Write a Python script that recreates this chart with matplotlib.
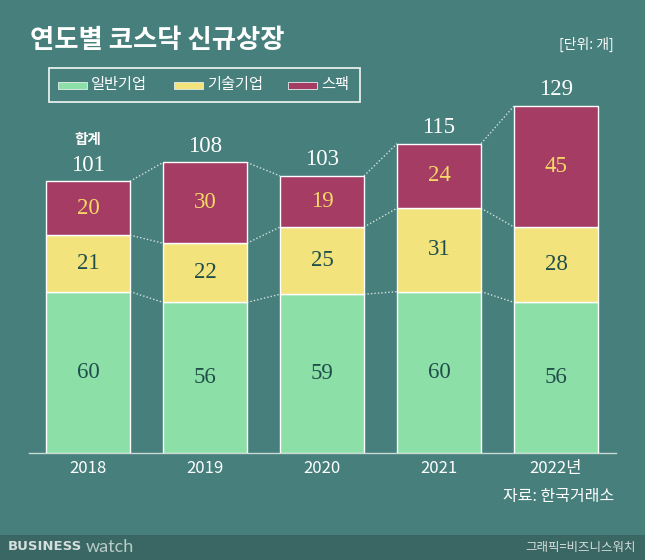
import matplotlib
matplotlib.use("Agg")
import matplotlib.pyplot as plt
from matplotlib.patches import Rectangle
import numpy as np

# ---- data ----
years = ["2018", "2019", "2020", "2021", "2022년"]
general = [60, 56, 59, 60, 56]      # 일반기업
tech = [21, 22, 25, 31, 28]         # 기술기업
spac = [20, 30, 19, 24, 45]         # 스팩
totals = [101, 108, 103, 115, 129]  # 합계
series_names = ["일반기업", "기술기업", "스팩"]

# ---- style ----
BG = "#467f7b"
FOOT = "#3a6763"
C_GREEN = "#8ddfa8"
C_YELLOW = "#f3e37c"
C_RED = "#a53c64"
DARK = "#1f4e4b"
NUM_YELLOW = "#f5d865"
SERIF = ["Liberation Serif", "DejaVu Serif"]
SANS = ["Noto Sans CJK KR", "DejaVu Sans"]

plt.rcParams["font.family"] = SANS

W, H = 645, 560
fig = plt.figure(figsize=(W / 100, H / 100), dpi=100)
fig.patch.set_facecolor(BG)


def fx(px):
    return px / W


def fy(py):
    return 1 - py / H


# footer band
fig.patches.append(Rectangle((0, 0), 1, fy(535), transform=fig.transFigure,
                             facecolor=FOOT, edgecolor="none", zorder=0))

# axes: baseline at y=453px, 2.69 px per unit; centers at 88 + 117*i
left_px, right_px, base_px = 29, 616, 453
ppu = 2.69
ax = fig.add_axes([fx(left_px), fy(base_px), (right_px - left_px) / W, base_px / H])
ax.set_facecolor("none")
ax.set_xlim((left_px - 88) / 117, (right_px - 88) / 117)
ax.set_ylim(0, base_px / ppu)
for s in ["top", "right", "left"]:
    ax.spines[s].set_visible(False)
ax.spines["bottom"].set_color("#c9d9d5")
ax.spines["bottom"].set_linewidth(1.0)
ax.set_yticks([])

x = np.arange(len(years))
bw = 84 / 117
g = np.array(general)
t = np.array(tech)
s = np.array(spac)

ek = dict(edgecolor="white", linewidth=1.0, width=bw, zorder=3)
ax.bar(x, g, color=C_GREEN, **ek)
ax.bar(x, t, bottom=g, color=C_YELLOW, **ek)
ax.bar(x, s, bottom=g + t, color=C_RED, **ek)

# dotted connectors between bars
levels = [g, g + t, g + t + s]
for lv in levels:
    for i in range(len(x) - 1):
        ax.plot([x[i] + bw / 2, x[i + 1] - bw / 2], [lv[i], lv[i + 1]],
                linestyle=(0, (1, 1.5)), color="#d5e2df", linewidth=1.0, zorder=2)

# segment labels
NS = 16.5
for i in range(len(x)):
    ax.text(x[i], g[i] / 2, str(g[i]), ha="center", va="center",
            fontsize=NS, color=DARK, family=SERIF, zorder=4)
    ax.text(x[i], g[i] + t[i] / 2, str(t[i]), ha="center", va="center",
            fontsize=NS, color=DARK, family=SERIF, zorder=4)
    ax.text(x[i], g[i] + t[i] + s[i] / 2, str(s[i]), ha="center", va="center",
            fontsize=NS, color=NUM_YELLOW, family=SERIF, zorder=4)
    ax.annotate(str(totals[i]), (x[i], totals[i]), xytext=(0, 4),
                textcoords="offset points", ha="center", va="bottom",
                fontsize=NS, color="white", family=SERIF, zorder=4,
                annotation_clip=False)

# 합계 label above first total
ax.annotate("합계", (x[0], totals[0]), xytext=(0, 25), textcoords="offset points",
            ha="center", va="bottom", fontsize=10.5, fontweight="bold",
            color="white", annotation_clip=False)

# x tick labels
ax.set_xticks(x)
ax.set_xticklabels(years, fontsize=12, color="white", fontweight="medium")
ax.tick_params(axis="x", length=0, pad=5)

# title and unit
fig.text(fx(30), fy(40), "연도별 코스닥 신규상장", ha="left", va="center",
         fontsize=19, fontweight="bold", color="white")
fig.text(fx(614), fy(44), "[단위: 개]", ha="right", va="center",
         fontsize=10, color="white", fontweight="medium")

# legend box
fig.patches.append(Rectangle((fx(49), fy(102)), (360 - 49) / W, (102 - 68) / H,
                             transform=fig.transFigure, facecolor="none",
                             edgecolor="#e6eeec", linewidth=1.3, zorder=5))
leg_items = [(58, C_GREEN, series_names[0]),
             (174, C_YELLOW, series_names[1]),
             (288, C_RED, series_names[2])]
for px, col, lab in leg_items:
    fig.patches.append(Rectangle((fx(px), fy(89)), 29 / W, 7 / H,
                                 transform=fig.transFigure, facecolor=col,
                                 edgecolor="#e6eeec", linewidth=0.6, zorder=5))
    fig.text(fx(px + 33), fy(85), lab, ha="left", va="center",
             fontsize=11, color="white", fontweight="medium")

# source
fig.text(fx(614), fy(497), "자료: 한국거래소", ha="right", va="center",
         fontsize=11.5, color="white", fontweight="medium")

# footer
fig.text(fx(8), fy(547), "BUSINESS", ha="left", va="center", fontsize=9.5,
         fontweight="heavy", color="#d4dedc", family=["DejaVu Sans"])
fig.text(fx(86), fy(547), "watch", ha="left", va="center", fontsize=13,
         fontweight="normal", color="#b9ccc8", family=["Lato", "DejaVu Sans"])
fig.text(fx(636), fy(547), "그래픽=비즈니스워치", ha="right", va="center",
         fontsize=9, color="#d4dedc", fontweight="medium")

fig.savefig("out.png", dpi=100, facecolor=BG)
